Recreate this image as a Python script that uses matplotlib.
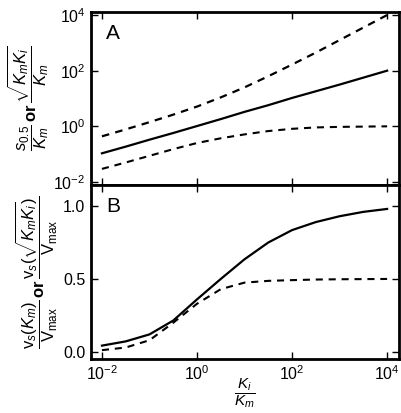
import matplotlib
matplotlib.use("Agg")
import matplotlib.pyplot as plt
import numpy as np

plt.rcParams['font.family'] = ['Liberation Sans', 'DejaVu Sans']
plt.rcParams['mathtext.fontset'] = 'custom'
plt.rcParams['mathtext.rm'] = 'Liberation Sans'
plt.rcParams['mathtext.it'] = 'Liberation Sans:italic'
plt.rcParams['mathtext.bf'] = 'Liberation Sans:bold'

# log10(Ki/Km) sample points
logx = [-2, -1.5, -1, -0.5, 0, 0.5, 1, 1.5, 2, 2.5, 3, 3.5, 4]

# panel A, log10 of y values
a_upper = [-0.36, -0.11, 0.15, 0.42, 0.71, 1.04, 1.40, 1.80, 2.22, 2.65, 3.10, 3.55, 4.0]
a_solid = [-0.97, -0.73, -0.48, -0.24, 0.01, 0.26, 0.52, 0.76, 1.02, 1.26, 1.50, 1.75, 2.0]
a_lower = [-1.53, -1.30, -1.06, -0.82, -0.60, -0.43, -0.29, -0.17, -0.09, -0.04, -0.02, -0.01, 0.0]

# panel B
b_solid = [0.043, 0.072, 0.12, 0.215, 0.36, 0.50, 0.635, 0.75, 0.835, 0.89, 0.93, 0.96, 0.98]
b_dashed = [0.012, 0.03, 0.08, 0.20, 0.33, 0.43, 0.475, 0.487, 0.492, 0.496, 0.498, 0.499, 0.50]

x = 10 ** np.array(logx)

fig = plt.figure(figsize=(4.01, 4.13), dpi=100)
axA = fig.add_axes([0.227, 0.552, 0.768, 0.419])
axB = fig.add_axes([0.227, 0.131, 0.768, 0.421])

dash = (0, (3.4, 2.8))
axA.plot(x, 10 ** np.array(a_upper), color='black', lw=1.6, linestyle=dash)
axA.plot(x, 10 ** np.array(a_solid), color='black', lw=1.6)
axA.plot(x, 10 ** np.array(a_lower), color='black', lw=1.5, linestyle=dash)
axA.set_xscale('log')
axA.set_yscale('log')
axA.set_xlim(10 ** -2.23, 10 ** 4.25)
axA.set_ylim(10 ** -2.11, 10 ** 4.11)
axA.set_yticks([1e-2, 1, 1e2, 1e4])
axA.set_xticks([1e-2, 1, 1e2, 1e4])
axA.tick_params(labelbottom=False)
axA.text(0.05, 0.93, 'A', transform=axA.transAxes, fontsize=15, va='top')
axA.set_ylabel(r'$\dfrac{s_{0.5}}{K_m}$' + r'$\,\mathbf{or}\,$' + r'$\dfrac{\sqrt{K_m K_i}}{K_m}$',
               fontsize=12, labelpad=2)

axB.plot(x, b_solid, color='black', lw=1.6)
axB.plot(x, b_dashed, color='black', lw=1.5, linestyle=dash)
axB.set_xscale('log')
axB.set_xlim(10 ** -2.23, 10 ** 4.25)
axB.set_ylim(-0.048, 1.144)
axB.set_yticks([0.0, 0.5, 1.0])
axB.set_yticklabels(['0.0', '0.5', '1.0'])
axB.set_xticks([1e-2, 1, 1e2, 1e4])
axB.text(0.05, 0.93, 'B', transform=axB.transAxes, fontsize=15, va='top')
axB.set_ylabel(r'$\dfrac{\mathrm{v}_s(K_m)}{\mathrm{V}_{\max}}$' + r'$\,\mathbf{or}\,$' +
               r'$\dfrac{\mathrm{v}_s(\sqrt{K_m K_i})}{\mathrm{V}_{\max}}$',
               fontsize=12, labelpad=2)
axB.set_xlabel(r'$\dfrac{K_i}{K_m}$', fontsize=11, labelpad=-5)

for ax in (axA, axB):
    ax.minorticks_off()
    ax.tick_params(which='major', direction='in', length=5, width=1,
                   top=True, right=True, labelsize=11.5, pad=4)
    for s in ax.spines.values():
        s.set_linewidth(2)

fig.savefig('out.png', dpi=100)
